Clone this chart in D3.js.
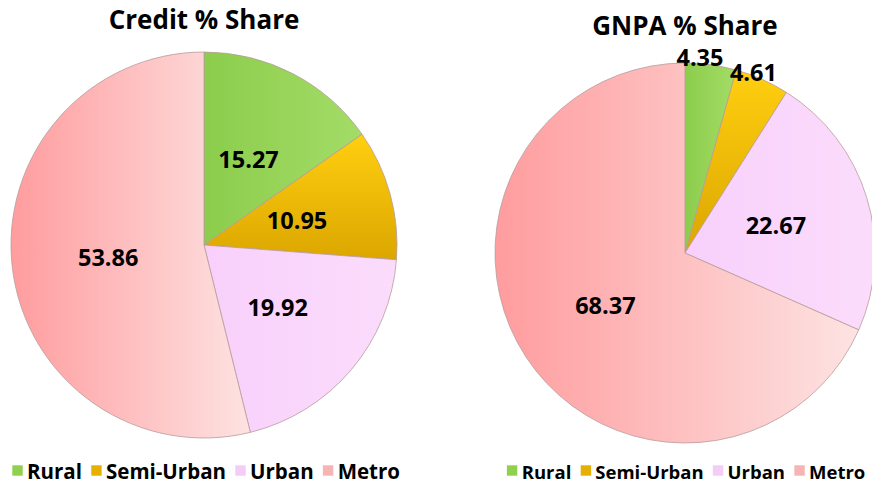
<!DOCTYPE html>
<html lang="en">
<head>
<meta charset="utf-8">
<script src="https://cdnjs.cloudflare.com/ajax/libs/d3/7.8.5/d3.min.js"></script>
<style>
  body { margin: 0; background: white; }
  svg { font-family: 'Open Sans', 'Lato', sans-serif; font-weight: bold; }
  .slice { stroke: #b79c9c; stroke-width: 0.8px; }
  .title { font-size: 26px; fill: black; text-anchor: middle; }
  .value { font-size: 23.5px; fill: black; text-anchor: middle; dominant-baseline: central; }
  .legend text { fill: black; dominant-baseline: central; }
</style>
</head>
<body>
<svg width="872" height="487"></svg>
<script>
// data
const categories = ["Rural", "Semi-Urban", "Urban", "Metro"];
const creditShare = [15.27, 10.95, 19.92, 53.86];
const gnpaShare = [4.35, 4.61, 22.67, 68.37];
const chartTitles = ["Credit % Share", "GNPA % Share"];

const svg = d3.select("svg");
const defs = svg.append("defs");

// gradient fills per category (horizontal/vertical, per slice box)
const gradients = [
  {id: "g-rural", x2: "100%", y2: "0%", stops: ["#8ccd4c", "#a3dc67"]},
  {id: "g-semi", x2: "0%", y2: "100%", stops: ["#ffcf10", "#dca600"]},
  {id: "g-urban", x2: "100%", y2: "0%", stops: ["#f8d0fb", "#fbdcfc"]},
  {id: "g-metro", x2: "100%", y2: "0%", stops: ["#ff9c9e", "#fde3e2"]}
];
gradients.forEach(g => {
  const lg = defs.append("linearGradient")
    .attr("id", g.id)
    .attr("x1", "0%").attr("y1", "0%")
    .attr("x2", g.x2).attr("y2", g.y2);
  lg.append("stop").attr("offset", "0%").attr("stop-color", g.stops[0]);
  lg.append("stop").attr("offset", "100%").attr("stop-color", g.stops[1]);
});
const legendColors = ["#8fd14f", "#e6b000", "#f3cdf6", "#f7b4b4"];

const color = d3.scaleOrdinal()
  .domain(categories)
  .range(gradients.map(g => "url(#" + g.id + ")"));

const pie = d3.pie().sort(null).value(d => d.value);

const charts = [
  {title: chartTitles[0], values: creditShare, cx: 204, cy: 245, r: 193, titleY: 29,
   legendY: 470, legendFont: 20.5, legendX: 206},
  {title: chartTitles[1], values: gnpaShare, cx: 685, cy: 253, r: 190, titleY: 35,
   legendY: 470, legendFont: 18.5, legendX: 686}
];

charts.forEach(c => {
  const data = categories.map((k, i) => ({key: k, value: c.values[i]}));
  const arc = d3.arc().innerRadius(0).outerRadius(c.r);
  const labelArc = d3.arc().innerRadius(c.r * 0.5).outerRadius(c.r * 0.5);
  const outerLabelArc = d3.arc().innerRadius(c.r + 8).outerRadius(c.r + 8);

  const g = svg.append("g").attr("transform", "translate(" + c.cx + "," + c.cy + ")");
  const arcs = pie(data);

  g.selectAll("path.slice")
    .data(arcs)
    .join("path")
    .attr("class", "slice")
    .attr("fill", d => color(d.data.key))
    .attr("d", arc);

  // small slices get their label just outside the rim
  g.selectAll("text.value")
    .data(arcs)
    .join("text")
    .attr("class", "value")
    .attr("transform", d => {
      const p = d.data.value < 6 ? outerLabelArc.centroid(d) : labelArc.centroid(d);
      return "translate(" + p + ")";
    })
    .attr("dx", d => d.data.value < 6 ? -12 : 0)
    .text(d => d3.format(".2f")(d.data.value));

  svg.append("text")
    .attr("class", "title")
    .attr("x", c.cx)
    .attr("y", c.titleY)
    .text(c.title);

  // legend, centered under the pie
  const lg = svg.append("g").attr("class", "legend").style("font-size", c.legendFont + "px");
  let x = 0;
  categories.forEach((k, i) => {
    const item = lg.append("g").attr("transform", "translate(" + x + ",0)");
    item.append("rect")
      .attr("x", 0).attr("y", -5)
      .attr("width", 11).attr("height", 11)
      .attr("fill", legendColors[i])
      .attr("stroke", "#ffffff").attr("stroke-width", 0.6);
    const t = item.append("text").attr("x", 15).attr("y", 1).text(k);
    x += 15 + t.node().getComputedTextLength() + 9;
  });
  const total = x - 9;
  lg.attr("transform", "translate(" + (c.legendX - total / 2) + "," + c.legendY + ")");
});
</script>
</body>
</html>
